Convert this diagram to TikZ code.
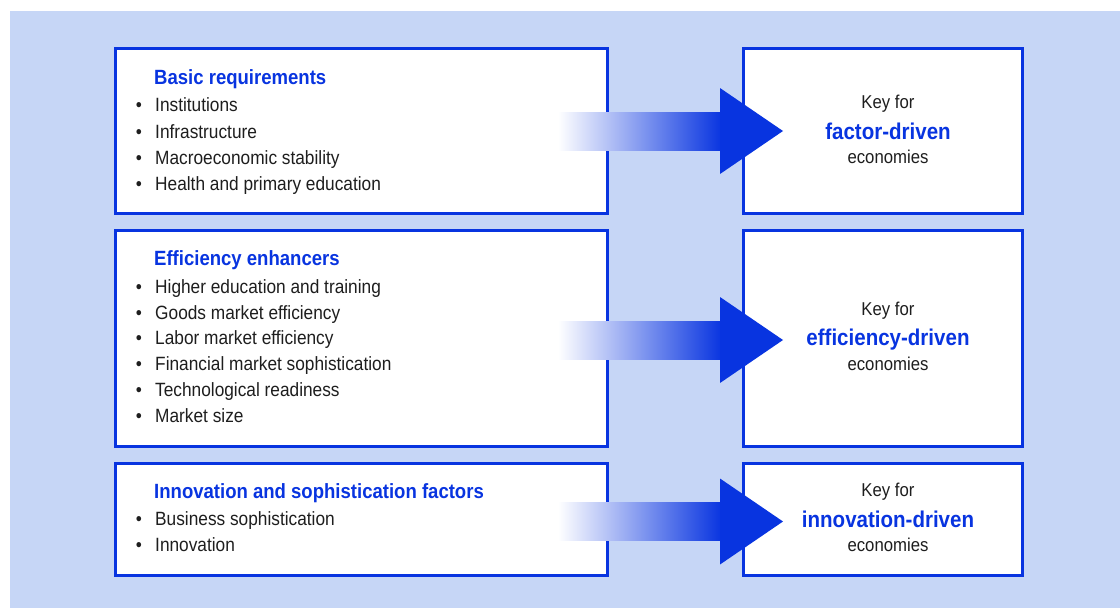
\documentclass[tikz,border=0pt]{standalone}
\usepackage{fontspec}
\setmainfont{Liberation Sans}[FakeStretch=0.9]
\usetikzlibrary{calc}
\definecolor{bg}{RGB}{198,214,246}
\definecolor{kblue}{RGB}{8,52,224}
\definecolor{ktext}{RGB}{30,30,30}
\begin{document}
\begin{tikzpicture}[x=1pt,y=-1pt,
 box/.style={draw=kblue, line width=3pt, fill=white, inner sep=0pt, outer sep=0pt, anchor=north west},
 headt/.style={anchor=base west, inner sep=0pt, text=kblue, font=\fontsize{20.6}{24}\selectfont\bfseries},
 itemt/.style={anchor=base west, inner sep=0pt, text=ktext, font=\fontsize{19.2}{23}\selectfont},
 bul/.style={anchor=base, inner sep=0pt, text=ktext, font=\fontsize{19.2}{23}\selectfont},
 keyt/.style={anchor=base, inner sep=0pt, text=ktext, font=\fontsize{18.6}{22}\selectfont},
 keyb/.style={anchor=base, inner sep=0pt, text=kblue, font=\fontsize{22.8}{26}\selectfont\bfseries},
 shaft/.style={left color=white, right color=kblue},
 ahead/.style={fill=kblue}
]
\useasboundingbox (0,0) rectangle (1120,608);
\fill[bg] (10,11) rectangle (1120,608);

% boxes
\node[box, minimum width=492.5pt, minimum height=164.8pt] (l1) at (115,48.7) {};
\node[box, minimum width=492.5pt, minimum height=216pt] (l2) at (115,230.5) {};
\node[box, minimum width=492.5pt, minimum height=111.3pt] (l3) at (115,463.7) {};
\node[box, minimum width=279pt, minimum height=164.8pt] (r1) at (743,48.7) {};
\node[box, minimum width=279pt, minimum height=216pt] (r2) at (743,230.5) {};
\node[box, minimum width=279pt, minimum height=111.3pt] (r3) at (743,463.7) {};

% left texts
\node[headt] (h1) at (154,84) {Basic requirements};
\foreach \t [count=\i from 0] in {Institutions,Infrastructure,Macroeconomic stability,Health and primary education}{
  \node[bul] (b1\i) at (139,111.7+26.3*\i) {\textbullet};
  \node[itemt] (i1\i) at (155,111.7+26.3*\i) {\t};
}
\node[headt] (h2) at (154,265) {Efficiency enhancers};
\foreach \t [count=\i from 0] in {Higher education and training,Goods market efficiency,Labor market efficiency,Financial market sophistication,Technological readiness,Market size}{
  \node[bul] (b2\i) at (139,293.3+25.8*\i) {\textbullet};
  \node[itemt] (i2\i) at (155,293.3+25.8*\i) {\t};
}
\node[headt] (h3) at (154,498.3) {Innovation and sophistication factors};
\foreach \t [count=\i from 0] in {Business sophistication,Innovation}{
  \node[bul] (b3\i) at (139,525+26.5*\i) {\textbullet};
  \node[itemt] (i3\i) at (155,525+26.5*\i) {\t};
}

% right texts
\node[keyt] (k1) at (888,108.7) {Key for};
\node[keyb] (d1) at (888,139.3) {factor-driven};
\node[keyt] (e1) at (888,163.7) {economies};
\node[keyt] (k2) at (888,315.5) {Key for};
\node[keyb] (d2) at (888,345.5) {efficiency-driven};
\node[keyt] (e2) at (888,370.5) {economies};
\node[keyt] (k3) at (888,496.7) {Key for};
\node[keyb] (d3) at (888,527.3) {innovation-driven};
\node[keyt] (e3) at (888,551.7) {economies};

% arrows
\foreach \n/\y in {1/131,2/340,3/521.5}{
  \coordinate (s\n) at (558,\y);
  \coordinate (t\n) at (783,\y);
  \shade[shaft] ($(s\n)+(0,-19)$) rectangle ($(s\n)+(164,19)$);
  \fill[ahead] ($(t\n)+(-63,-43)$) -- (t\n) -- ($(t\n)+(-63,43)$) -- cycle;
}
\end{tikzpicture}
\end{document}
